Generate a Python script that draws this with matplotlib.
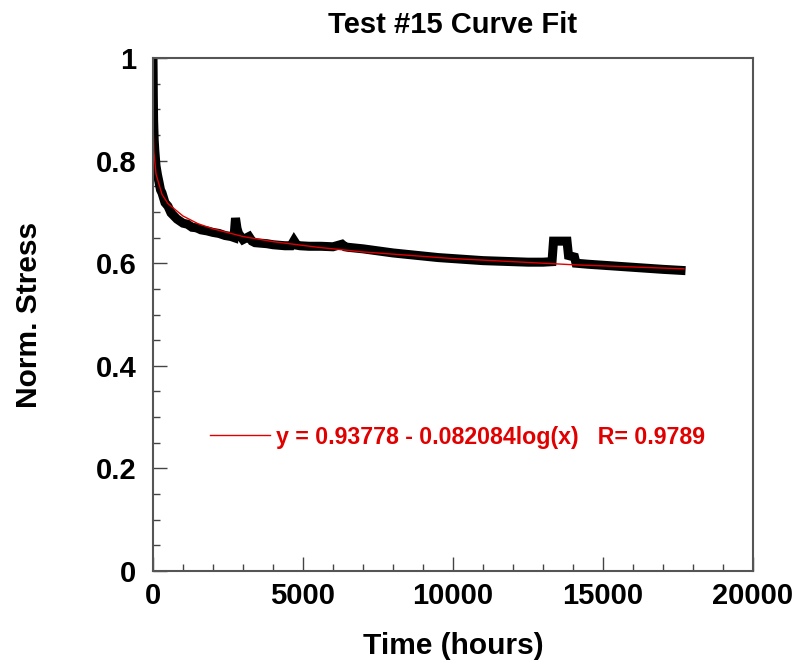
import numpy as np
import matplotlib
matplotlib.use('Agg')
import matplotlib.pyplot as plt
from matplotlib.ticker import MultipleLocator

plt.rcParams['font.family'] = ['Liberation Sans', 'DejaVu Sans']
plt.rcParams['font.weight'] = 'bold'

# measured stress relaxation, test #15
hours = [0, 5, 10, 20, 40, 60, 100, 150, 200, 250, 300, 400, 500, 600, 700, 800,
         1000, 1150, 1300, 1450, 1600, 1800, 2000, 2200, 2400, 2600, 2700, 2750,
         2800, 2850, 3000, 3200, 3300, 3400, 3600, 3800, 4000, 4200, 4400, 4600,
         4700, 4800, 4900, 5200, 5600, 6000, 6300, 6400, 6500, 7000, 7500, 8000,
         8500, 9000, 9500, 10000, 10500, 11000, 11500, 12000, 12500, 13000, 13300,
         13350, 13800, 13850, 14050, 14100, 14500, 15000, 15500, 16000, 16500,
         17000, 17600]
stress = [1.0, 0.97, 0.93, 0.88, 0.84, 0.82, 0.79, 0.772, 0.758, 0.743, 0.737, 0.718,
          0.711, 0.698, 0.692, 0.686, 0.678, 0.676, 0.670, 0.669, 0.665, 0.663,
          0.660, 0.658, 0.654, 0.652, 0.650, 0.688, 0.668, 0.658, 0.646, 0.652,
          0.643, 0.640, 0.639, 0.638, 0.636, 0.635, 0.634, 0.634, 0.644, 0.635,
          0.634, 0.633, 0.633, 0.632, 0.637, 0.632, 0.631, 0.628, 0.624, 0.620,
          0.617, 0.614, 0.611, 0.609, 0.607, 0.605, 0.604, 0.603, 0.602, 0.602,
          0.603, 0.643, 0.643, 0.615, 0.612, 0.600, 0.598, 0.596, 0.594, 0.592,
          0.590, 0.588, 0.586]

# log fit curve
fit_hours = [0.2, 1, 3, 10, 30, 100, 300, 500, 1000, 1500, 2000, 3000, 4000,
             5500, 7000, 10000, 12000, 14000, 17700]
fit_stress = [1.0, 0.938, 0.899, 0.856, 0.817, 0.774, 0.734, 0.716, 0.692, 0.677,
              0.667, 0.652, 0.642, 0.631, 0.622, 0.609, 0.603, 0.597, 0.589]

fit_label = 'y = 0.93778 - 0.082084log(x)   R= 0.9789'

fig = plt.figure(figsize=(7.93, 6.64), dpi=100)
ax = fig.add_axes([153/793, 93/664, 600/793, 513/664])

ax.plot(hours, stress, color='black', lw=6.5, solid_joinstyle='miter')
ax.plot(fit_hours, fit_stress, color='#e00000', lw=1, label=fit_label)

ax.set_xlim(0, 20000)
ax.set_ylim(0, 1)
ax.xaxis.set_major_locator(MultipleLocator(5000))
ax.xaxis.set_minor_locator(MultipleLocator(1000))
ax.yaxis.set_minor_locator(MultipleLocator(0.05))
ax.set_yticks([0, 0.2, 0.4, 0.6, 0.8, 1.0])
ax.set_yticklabels(['0', '0.2', '0.4', '0.6', '0.8', '1'])
ax.tick_params(which='both', direction='in', top=False, right=False, color='#444444')
ax.tick_params(which='major', length=10, width=1, labelsize=21, pad=8)
ax.tick_params(which='minor', length=5, width=1)
ax.tick_params(axis='y', which='major', pad=12)
for s in ax.spines.values():
    s.set_color('#555555')
    s.set_linewidth(1.5)

ax.set_title('Test #15 Curve Fit', fontsize=21, fontweight='bold', pad=18)
ax.set_xlabel('Time (hours)', fontsize=21.5, fontweight='bold', labelpad=16)
ax.set_ylabel('Norm. Stress', fontsize=21.5, fontweight='bold', labelpad=38)

leg = ax.legend(loc='center left', bbox_to_anchor=(0.095, 0.261), frameon=False,
                fontsize=16.7, handlelength=2.6, handletextpad=0.25,
                borderpad=0, borderaxespad=0)
for t in leg.get_texts():
    t.set_color('#e00000')
    t.set_fontweight('bold')

fig.savefig('out.png', dpi=100)
